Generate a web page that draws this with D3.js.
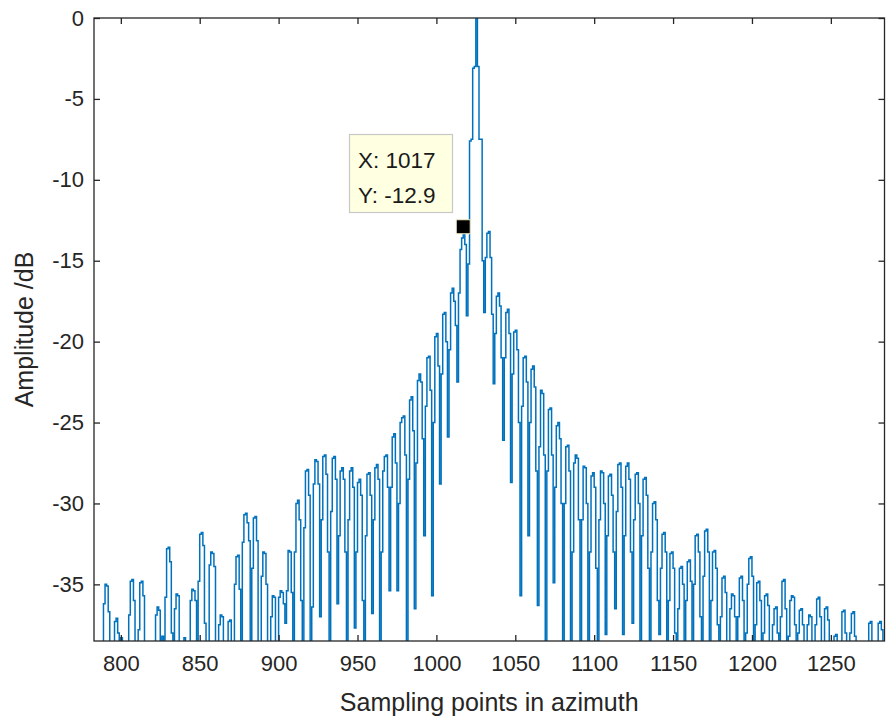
<!DOCTYPE html>
<html>
<head>
<meta charset="utf-8">
<script src="https://cdn.jsdelivr.net/npm/d3@7"></script>
<style>
  body { margin: 0; background: #fff; }
  text { font-family: "Liberation Sans", Arial, Helvetica, sans-serif; }
</style>
</head>
<body>
<svg id="chart" width="891" height="722"></svg>
<script>
// Azimuth impulse response of a point target, in dB, one value per sampling point.
const firstSample = 783;
const amplitudeDb = [
  /* 783 */ -41, -39.5, -40, -45, -42, -39, -36.2, -35.0, -35.1, -36.7,
  /* 793 */ -44, -44, -40, -37.3, -37.1, -38.0, -41, -38.3, -42, -45,
  /* 803 */ -40, -43, -36.9, -34.8, -34.7, -36.0, -42, -46, -37.8, -34.9,
  /* 813 */ -34.8, -35.7, -44, -46, -41, -43, -40, -44, -42, -36.9,
  /* 823 */ -36.4, -36.6, -40, -38.2, -42, -35.8, -32.8, -32.7, -33.6, -38.0,
  /* 833 */ -44, -36.5, -35.6, -35.7, -43, -45, -41, -38.3, -42, -46,
  /* 843 */ -40, -36.0, -35.3, -35.4, -36.0, -41, -34.8, -31.9, -31.8, -32.6,
  /* 853 */ -37.4, -43, -45, -33.8, -33.0, -33.1, -33.9, -44, -42, -37.5,
  /* 863 */ -36.9, -37.0, -41, -45, -39, -37.3, -37.2, -40, -43, -35.0,
  /* 873 */ -33.3, -33.2, -35.3, -42, -32.4, -30.7, -30.6, -31.2, -32.3, -41,
  /* 883 */ -34, -30.9, -30.8, -32.3, -40, -44, -34.5, -33.0, -33.1, -35,
  /* 893 */ -43, -41, -37, -35.7, -35.8, -42, -45, -35.8, -35.4, -35.5,
  /* 903 */ -36.2, -37.4, -35.4, -32.9, -33.0, -35.5, -44, -33.0, -30.0, -29.8,
  /* 913 */ -31.0, -36.0, -45, -31.5, -28.0, -27.9, -29.5, -44, -36.4, -28.8,
  /* 923 */ -27.3, -27.4, -28.8, -37.0, -31, -27.1, -27.0, -28.2, -33, -44,
  /* 933 */ -30.5, -27.2, -27.1, -28.5, -36.2, -32, -28.0, -27.8, -28.5, -33,
  /* 943 */ -44, -31, -28.0, -27.8, -29, -37.7, -33, -28.7, -28.5, -29.5,
  /* 953 */ -36, -44, -32, -28.2, -28.1, -29.5, -36.8, -31, -27.8, -27.6,
  /* 963 */ -28.5, -44, -33, -28, -27.1, -27.0, -29.0, -35.4, -29, -25.9,
  /* 973 */ -25.7, -27.5, -35.4, -30, -25, -24.7, -24.6, -27, -44, -28.5,
  /* 983 */ -23.6, -23.4, -25.5, -36.5, -27.5, -22.4, -22.0, -22.5, -26, -32.0,
  /* 993 */ -24, -21.0, -20.9, -23, -35.7, -25, -19.7, -19.5, -21.5, -28.8,
  /* 1003 */ -22, -18.3, -18.2, -20, -25.9, -20.5, -17, -16.7, -17.5, -19,
  /* 1013 */ -22.5, -17.0, -14.3, -13.6, -12.9, -14.0, -18.4, -15.2, -7.6, -7.5,
  /* 1023 */ -3.1, -3.0, 0, -3.0, -7.5, -7.5, -15.0, -18.2, -14.8, -13.3,
  /* 1033 */ -13.2, -14.8, -18.3, -22.6, -19.5, -17.2, -17.0, -17.8, -21, -26.1,
  /* 1043 */ -21, -18.2, -18.0, -19.5, -28.7, -22, -19.4, -19.3, -20.5, -25,
  /* 1053 */ -35.7, -24, -21.0, -20.9, -22.5, -32.0, -25, -21.7, -21.5, -22.8,
  /* 1063 */ -28, -36.3, -26.5, -23.0, -23.2, -27, -44, -28, -24.2, -24.1,
  /* 1073 */ -27, -34.9, -29, -25.2, -25.0, -26.0, -30, -44, -30, -26.5,
  /* 1083 */ -26.4, -28, -44, -33, -27.5, -27.0, -27.2, -31, -44, -31,
  /* 1093 */ -27.7, -27.8, -30, -44, -33, -28.3, -28.1, -29, -34, -44,
  /* 1103 */ -31, -28.0, -28.1, -30, -38.1, -32, -28.3, -28.2, -29.5, -33,
  /* 1113 */ -36.5, -30.5, -27.6, -27.5, -29, -38.1, -32, -27.7, -27.5, -28.5,
  /* 1123 */ -33, -37.4, -31, -28.2, -28.1, -30, -44, -32, -28.5, -28.4,
  /* 1133 */ -29.5, -34, -44, -33, -30.0, -29.9, -31, -36, -38.1, -34,
  /* 1143 */ -31.9, -31.8, -33, -44, -36, -33.1, -33.0, -34, -38, -43,
  /* 1153 */ -36.5, -34.0, -33.9, -35, -44, -36, -33.6, -33.5, -34.8, -42,
  /* 1163 */ -35, -32.0, -31.9, -33, -37, -44, -34.5, -31.7, -31.6, -33,
  /* 1173 */ -44, -36, -33.0, -32.9, -34, -37.5, -44, -37, -34.6, -34.5,
  /* 1183 */ -35.5, -43, -40, -36.5, -35.6, -35.7, -37, -44, -37, -34.6,
  /* 1193 */ -34.5, -36, -44, -38, -35, -33.4, -33.3, -34.5, -44, -37.5,
  /* 1203 */ -34.9, -34.8, -36, -43, -38, -35.7, -35.6, -36.3, -44, -41,
  /* 1213 */ -37.5, -36.5, -36.4, -38, -44, -37, -34.8, -34.7, -36.5, -43,
  /* 1223 */ -38.2, -36, -35.7, -35.8, -37.5, -44, -38, -36.6, -36.5, -37.5,
  /* 1233 */ -44, -40, -37.5, -36.9, -37.0, -42, -43, -37.5, -35.9, -35.8,
  /* 1243 */ -37, -44, -39, -36.5, -36.4, -37.2, -44, -41, -39.5, -38.2,
  /* 1253 */ -38.1, -40, -45, -42, -36.7, -36.6, -38.0, -44, -46, -38,
  /* 1263 */ -36.8, -36.7, -38.2, -43, -45, -41, -40, -42, -46, -40,
  /* 1273 */ -39, -37.4, -37.3, -42, -45, -41, -39, -37.4, -37.3, -37.8,
  /* 1283 */ -42, -40
];

const xTicks = [800, 850, 900, 950, 1000, 1050, 1100, 1150, 1200, 1250];
const yTicks = [0, -5, -10, -15, -20, -25, -30, -35];
const yLimits = [-38.5, 0];
const tipPoint = { x: 1017, y: -12.9 };
const xTitle = "Sampling points in azimuth";
const yTitle = "Amplitude /dB";

const points = amplitudeDb.map((v, i) => ({ x: firstSample + i, y: v }));

const W = 891, H = 722;
const plot = { left: 94, right: 884.5, top: 18, bottom: 641 };
const axisColor = "#262626";
const lineColor = "#0072BD";

const svg = d3.select("#chart");
svg.append("rect").attr("width", W).attr("height", H).attr("fill", "#fff");

const x = d3.scaleLinear()
  .domain(d3.extent(points, d => d.x))
  .range([plot.left, plot.right]);
const y = d3.scaleLinear()
  .domain(yLimits)
  .range([plot.bottom, plot.top]);

svg.append("clipPath").attr("id", "plot-clip")
  .append("rect")
  .attr("x", plot.left).attr("y", plot.top)
  .attr("width", plot.right - plot.left)
  .attr("height", plot.bottom - plot.top);

// stairs-style trace
const line = d3.line()
  .x(d => x(d.x))
  .y(d => y(d.y))
  .curve(d3.curveStepAfter);

svg.append("path")
  .datum(points)
  .attr("clip-path", "url(#plot-clip)")
  .attr("fill", "none")
  .attr("stroke", lineColor)
  .attr("stroke-width", 1.5)
  .attr("d", line);

// box axes with inward ticks on all four sides
const tickLen = 6;
const fontSize = 22;
const plainNumber = d => String(d);

const xBottom = d3.axisBottom(x).tickValues(xTicks).tickFormat(plainNumber)
  .tickSizeInner(-tickLen).tickSizeOuter(0).tickPadding(14);
const xTop = d3.axisTop(x).tickValues(xTicks).tickFormat("")
  .tickSizeInner(-tickLen).tickSizeOuter(0);
const yLeft = d3.axisLeft(y).tickValues(yTicks).tickFormat(plainNumber)
  .tickSizeInner(-tickLen).tickSizeOuter(0).tickPadding(10);
const yRight = d3.axisRight(y).tickValues(yTicks).tickFormat("")
  .tickSizeInner(-tickLen).tickSizeOuter(0);

function styleAxis(g) {
  g.select(".domain").remove();
  g.selectAll(".tick line").attr("stroke", axisColor).attr("stroke-width", 1.3);
  g.selectAll(".tick text")
    .attr("fill", axisColor)
    .attr("font-size", fontSize)
    .attr("font-family", "Liberation Sans, Arial, sans-serif");
}

svg.append("g").attr("transform", `translate(0,${plot.bottom})`).call(xBottom).call(styleAxis);
svg.append("g").attr("transform", `translate(0,${plot.top})`).call(xTop).call(styleAxis);
svg.append("g").attr("transform", `translate(${plot.left},0)`).call(yLeft).call(styleAxis);
svg.append("g").attr("transform", `translate(${plot.right},0)`).call(yRight).call(styleAxis);

svg.append("rect")
  .attr("x", plot.left).attr("y", plot.top)
  .attr("width", plot.right - plot.left)
  .attr("height", plot.bottom - plot.top)
  .attr("fill", "none")
  .attr("stroke", axisColor)
  .attr("stroke-width", 1.3);

// axis titles
svg.append("text")
  .attr("x", (plot.left + plot.right) / 2)
  .attr("y", 711)
  .attr("text-anchor", "middle")
  .attr("fill", axisColor)
  .attr("font-size", 25)
  .text(xTitle);

svg.append("text")
  .attr("transform", `translate(33,${(plot.top + plot.bottom) / 2}) rotate(-90)`)
  .attr("text-anchor", "middle")
  .attr("fill", axisColor)
  .attr("font-size", 25)
  .text(yTitle);

// data tip
const tip = svg.append("g");
tip.append("rect")
  .attr("x", 349.5).attr("y", 134.5)
  .attr("width", 103).attr("height", 78)
  .attr("fill", "#ffffe1")
  .attr("stroke", "#c8c8c8")
  .attr("stroke-width", 1.2);
tip.append("text")
  .attr("x", 358).attr("y", 168)
  .attr("font-size", 22.5)
  .attr("fill", "#1a1a1a")
  .text(`X: ${tipPoint.x}`);
tip.append("text")
  .attr("x", 358).attr("y", 203)
  .attr("font-size", 22.5)
  .attr("fill", "#1a1a1a")
  .text(`Y: ${tipPoint.y}`);
tip.append("rect")
  .attr("x", x(tipPoint.x) - 7).attr("y", y(tipPoint.y) - 7)
  .attr("width", 14).attr("height", 14)
  .attr("fill", "#000")
  .attr("stroke", "#f5f0c8")
  .attr("stroke-width", 1);
</script>
</body>
</html>
